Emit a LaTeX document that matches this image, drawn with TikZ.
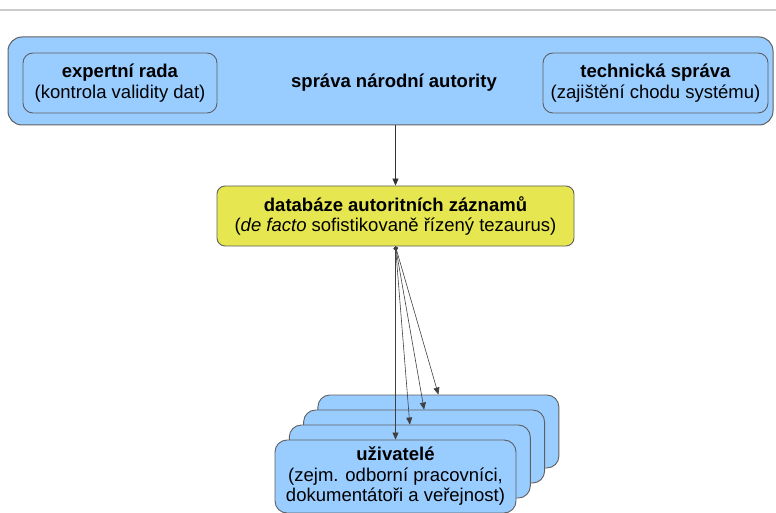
\documentclass[tikz,border=0pt]{standalone}
\usepackage{fontspec}
\setmainfont{Liberation Sans}
\usepackage{xcolor}
\usepackage{tikz}
\usetikzlibrary{arrows.meta, positioning}
\definecolor{boxblue}{RGB}{153,204,255}
\definecolor{boxyellow}{RGB}{230,230,80}
\definecolor{edgegray}{RGB}{95,95,95}

\begin{document}
\begin{tikzpicture}[
    x=1pt, y=-1pt,
    font=\fontsize{18.5}{20.5}\selectfont,
    panel/.style={
      draw=edgegray,
      fill=boxblue,
      line width=1pt,
      rounded corners=14pt,
      minimum width=765pt,
      minimum height=88pt,
      inner sep=0pt
    },
    unit/.style={
      draw=edgegray,
      fill=boxblue,
      line width=0.9pt,
      rounded corners=10pt,
      minimum height=60pt,
      align=center,
      inner sep=0pt
    },
    store/.style={
      draw=edgegray,
      fill=boxyellow,
      line width=0.9pt,
      rounded corners=8pt,
      minimum width=357pt,
      minimum height=60pt,
      align=center,
      inner sep=0pt
    },
    crowd/.style={
      draw=edgegray,
      fill=boxblue,
      line width=0.9pt,
      rounded corners=12pt,
      minimum width=241pt,
      minimum height=73pt,
      align=center,
      inner sep=0pt
    },
    link/.style={
      -{Triangle[length=7pt, width=6pt]},
      draw=black!80,
      line width=0.7pt
    },
    fanout/.style={
      {Circle[length=4pt]}-{Triangle[length=7pt, width=6pt]},
      draw=black!75,
      line width=0.6pt
    }
]
\useasboundingbox (0,0) rectangle (776,513);

% page rule
\draw [line width=2pt, black!20] (0,10) -- (776,10);

% National authority
\node (authority) [panel] at (390.5,81) {};
\node (title) at (394,83) {\textbf{správa národní autority}};
\node (experts) [unit, minimum width=194pt] at (120,83)
  {\textbf{expertní rada}\\(kontrola validity dat)};
\node (tech) [unit, minimum width=225pt] at (655.5,83)
  {\textbf{technická správa}\\(zajištění chodu systému)};

% Authority records
\node (records) [store] at (395.5,216)
  {\textbf{databáze autoritních záznamů}\\(\textit{de facto} sofistikovaně řízený tezaurus)};
\draw [link] (records.north |- authority.south) -- (records.north);

% Users (stacked)
\foreach \k in {4,3,2}
  \node (user\k) [crowd] at (395.5+14.3*\k-14.3, 476.5-15*\k+15) {};
\node (user1) [crowd] at (395.5,476.5)
  {\textbf{uživatelé}\\(zejm. odborní pracovníci,\\dokumentátoři a veřejnost)};

\foreach \k in {1,...,4}
  \draw [fanout] (records.south) -- (user\k.north);

\end{tikzpicture}
\end{document}
